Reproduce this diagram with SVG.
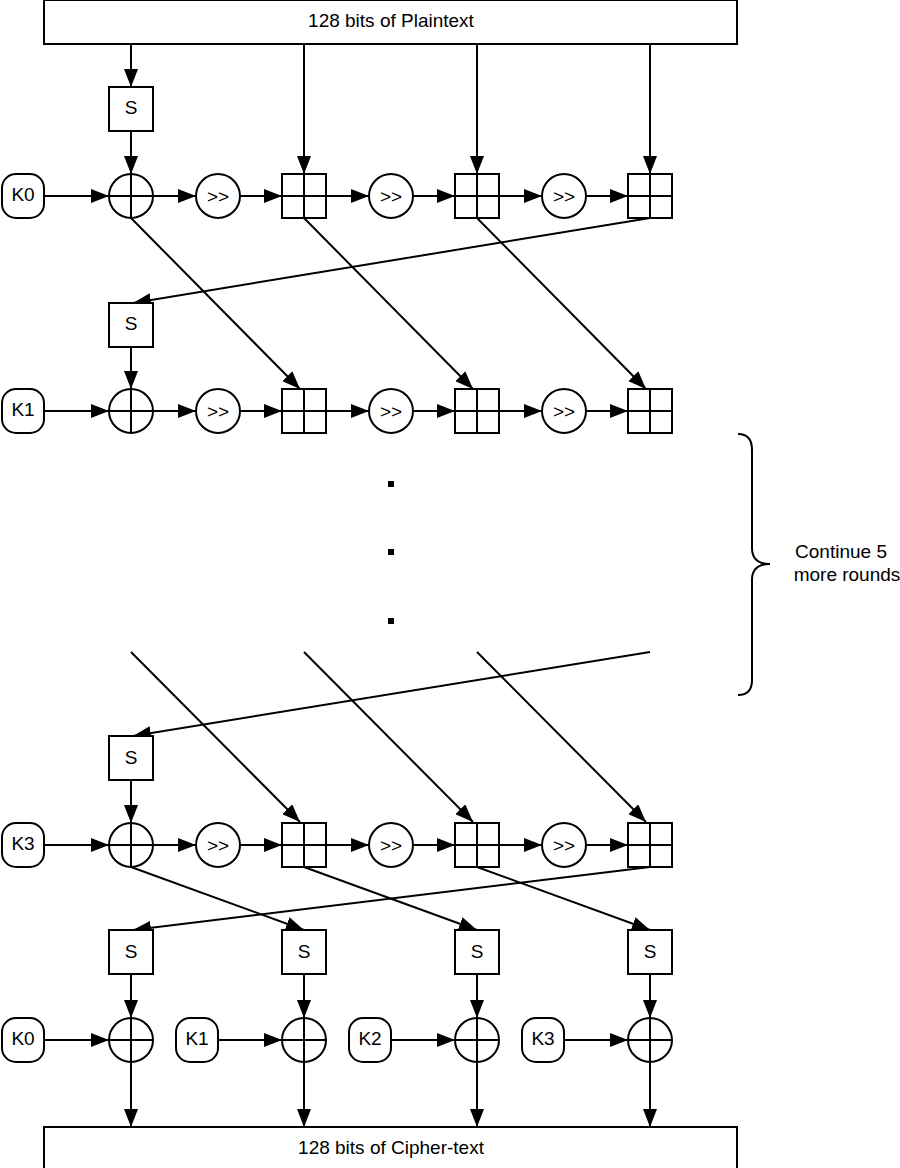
<svg xmlns="http://www.w3.org/2000/svg" width="900" height="1168" viewBox="0 0 900 1168">
<style>
.b{fill:#fff;stroke:#000;stroke-width:2}
.l{stroke:#000;stroke-width:2;fill:none}
.a{stroke:#000;stroke-width:2;fill:none;marker-end:url(#ar2)}
text{font-family:"Liberation Sans",Arial,sans-serif;font-size:19px;text-anchor:middle;dominant-baseline:central;fill:#000}
</style>
<defs>
<marker id="ar2" markerWidth="18" markerHeight="14" refX="18" refY="7" orient="auto" markerUnits="userSpaceOnUse"><path d="M0,0L18,7L0,14Z" fill="#000"/></marker>
<g id="x"><circle class="b" r="22"/><path class="l" d="M-22,0H22M0,-22V22"/></g>
<g id="gr"><rect class="b" x="-22" y="-22" width="44" height="44"/><path class="l" d="M-22,0H22M0,-22V22"/></g>
<g id="sh"><circle class="b" r="22"/><text>&gt;&gt;</text></g>
</defs>
<g id="connectors">
<path class="a" d="M131,44V87"/><path class="a" d="M304,44V174"/><path class="a" d="M477,44V174"/><path class="a" d="M650,44V174"/>
<path class="a" d="M131,131V174"/>
<path class="a" d="M44,196H109"/><path class="a" d="M153,196H196"/><path class="a" d="M240,196H282"/><path class="a" d="M326,196H369"/><path class="a" d="M413,196H455"/><path class="a" d="M499,196H542"/><path class="a" d="M586,196H628"/>
<path class="a" d="M131,218L300,389"/><path class="a" d="M304,218L473,389"/><path class="a" d="M477,218L646,389"/><path class="a" d="M650,218L133,303"/>
<path class="a" d="M131,347V389"/>
<path class="a" d="M44,411H109"/><path class="a" d="M153,411H196"/><path class="a" d="M240,411H282"/><path class="a" d="M326,411H369"/><path class="a" d="M413,411H455"/><path class="a" d="M499,411H542"/><path class="a" d="M586,411H628"/>
<path class="a" d="M131,652L300,822"/><path class="a" d="M304,652L473,822"/><path class="a" d="M477,652L646,822"/><path class="a" d="M650,652L133,736"/>
<path class="a" d="M131,780V823"/>
<path class="a" d="M44,845H109"/><path class="a" d="M153,845H196"/><path class="a" d="M240,845H282"/><path class="a" d="M326,845H369"/><path class="a" d="M413,845H455"/><path class="a" d="M499,845H542"/><path class="a" d="M586,845H628"/>
<path class="a" d="M131,867L304,930"/><path class="a" d="M304,867L477,930"/><path class="a" d="M477,867L650,930"/><path class="a" d="M650,867L133,930"/>
<path class="a" d="M131,974V1018"/><path class="a" d="M304,974V1018"/><path class="a" d="M477,974V1018"/><path class="a" d="M650,974V1018"/>
<path class="a" d="M44,1040H109"/><path class="a" d="M218,1040H282"/><path class="a" d="M391,1040H455"/><path class="a" d="M564,1040H628"/>
<path class="a" d="M131,1062V1127"/><path class="a" d="M304,1062V1127"/><path class="a" d="M477,1062V1127"/><path class="a" d="M650,1062V1127"/>
</g>
<g id="plain"><rect class="b" x="44" y="0" width="693" height="44"/><text x="391" y="20">128 bits of Plaintext</text></g>
<g id="cipher"><rect class="b" x="44" y="1127" width="693" height="44"/><text x="391" y="1147">128 bits of Cipher-text</text></g>
<g id="s1"><rect class="b" x="109" y="87" width="44" height="44"/><text x="131" y="107">S</text></g>
<g id="s2"><rect class="b" x="109" y="303" width="44" height="44"/><text x="131" y="323">S</text></g>
<g id="s3"><rect class="b" x="109" y="736" width="44" height="44"/><text x="131" y="757">S</text></g>
<g id="s4a"><rect class="b" x="109" y="930" width="44" height="44"/><text x="131" y="951">S</text></g>
<g id="s4b"><rect class="b" x="282" y="930" width="44" height="44"/><text x="304" y="951">S</text></g>
<g id="s4c"><rect class="b" x="455" y="930" width="44" height="44"/><text x="477" y="951">S</text></g>
<g id="s4d"><rect class="b" x="628" y="930" width="44" height="44"/><text x="650" y="951">S</text></g>
<g id="k0"><rect class="b" x="2" y="174" width="42" height="44" rx="14"/><text x="23" y="194">K0</text></g>
<g id="k1"><rect class="b" x="2" y="389" width="42" height="44" rx="14"/><text x="23" y="409">K1</text></g>
<g id="k3"><rect class="b" x="2" y="823" width="42" height="44" rx="14"/><text x="23" y="843">K3</text></g>
<g id="bk0"><rect class="b" x="2" y="1018" width="42" height="44" rx="14"/><text x="23" y="1038">K0</text></g>
<g id="bk1"><rect class="b" x="176" y="1018" width="42" height="44" rx="14"/><text x="197" y="1038">K1</text></g>
<g id="bk2"><rect class="b" x="349" y="1018" width="42" height="44" rx="14"/><text x="370" y="1038">K2</text></g>
<g id="bk3"><rect class="b" x="522" y="1018" width="42" height="44" rx="14"/><text x="543" y="1038">K3</text></g>
<g id="r1">
<use href="#x" x="131" y="196"/><use href="#sh" x="218" y="196"/><use href="#gr" x="304" y="196"/><use href="#sh" x="391" y="196"/><use href="#gr" x="477" y="196"/><use href="#sh" x="564" y="196"/><use href="#gr" x="650" y="196"/>
</g>
<g id="r2">
<use href="#x" x="131" y="411"/><use href="#sh" x="218" y="411"/><use href="#gr" x="304" y="411"/><use href="#sh" x="391" y="411"/><use href="#gr" x="477" y="411"/><use href="#sh" x="564" y="411"/><use href="#gr" x="650" y="411"/>
</g>
<g id="r3">
<use href="#x" x="131" y="845"/><use href="#sh" x="218" y="845"/><use href="#gr" x="304" y="845"/><use href="#sh" x="391" y="845"/><use href="#gr" x="477" y="845"/><use href="#sh" x="564" y="845"/><use href="#gr" x="650" y="845"/>
</g>
<g id="r4">
<use href="#x" x="131" y="1040"/><use href="#x" x="304" y="1040"/><use href="#x" x="477" y="1040"/><use href="#x" x="650" y="1040"/>
</g>
<g id="dots"><rect x="388" y="481" width="6" height="6"/><rect x="388" y="549" width="6" height="6"/><rect x="388" y="618" width="6" height="6"/></g>
<g id="brace"><path class="l" d="M738,434Q752,434 752,450V548Q752,564 770,564Q752,564 752,580V680Q752,695 738,695"/>
<text x="841" y="551">Continue 5</text><text x="847" y="574">more rounds</text></g>
</svg>
